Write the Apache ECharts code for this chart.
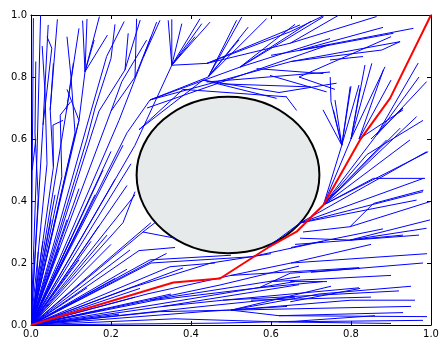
<!DOCTYPE html>
<html>
<head>
<meta charset="utf-8">
<script src="https://cdn.jsdelivr.net/npm/echarts@6/dist/echarts.min.js"></script>
<style>
html, body { margin: 0; padding: 0; background: #fff; }
#chart { width: 441px; height: 339px; }
</style>
</head>
<body>
<div id="chart"></div>
<script>
// tick labels
var xTicks = [0, 0.2, 0.4, 0.6, 0.8, 1.0];
var yTicks = [0, 0.2, 0.4, 0.6, 0.8, 1.0];

// obstacle (ellipse in data units)
var obstacleCenter = [0.4925, 0.484];
var obstacleRadius = [0.2285, 0.2525];

// found path (red)
var pathX = [0, 0.356, 0.4725, 0.593, 0.664, 0.731, 0.8225, 0.8975, 1.0];
var pathY = [0, 0.137, 0.15, 0.25, 0.301, 0.387, 0.597, 0.731, 1.0];

// ends of the edges that leave the start node (0, 0)
var rootChildren = [
    // low
    [0.36,0.02],[0.32,0.043],[0.33,0.06],[0.31,0.08],[0.29,0.10],[0.25,0.12],[0.21,0.15],[0.18,0.05],
    [0.24,0.18],[0.30,0.20],[0.27,0.24],[0.20,0.26],[0.15,0.27],[0.28,0.30],[0.23,0.33],[0.17,0.32],
    [0.13,0.34],[0.09,0.34],[0.05,0.34],[0.12,0.21],[0.10,0.28],[0.07,0.25],[0.26,0.09],[0.22,0.035],
    [0.2725,0.118],[0.2975,0.21],[0.3475,0.188],[0.38,0.184],[0.2475,0.242],[0.339,0.231],[0.4725,0.129],
    [0.4725,0.10],[0.4225,0.059],[0.43,0.043],[0.47,0.006],[0.19,0.29],[0.03,0.27],[0.30,0.33],
    [0.14,0.12],[0.35,0.10],
    // steep
    [0.006,0.99],[0.015,0.55],[0.018,0.41],[0.03,0.645],[0.056,0.51],[0.089,0.694],[0.077,0.478],
    [0.12,0.66],[0.15,0.69],[0.17,0.69],[0.20,0.69],[0.22,0.66],[0.24,0.62],[0.26,0.58],[0.25,0.52],
    [0.24,0.45],[0.26,0.42],[0.12,0.44],[0.18,0.50],[0.10,0.56],[0.20,0.56],[0.06,0.42],[0.14,0.60],
    [0.04,0.52],[0.16,0.42],[0.21,0.47],[0.11,0.62],[0.23,0.58]
];

// other tree edges [x1, y1, x2, y2]
var treeEdges = [
    // left edge
    [0.015,0.55,0.024,1.0],[0.018,0.41,0.01,0.62],[0.01,0.62,0.012,0.85],[0.03,0.645,0.043,0.968],
    [0.03,0.645,0.052,0.893],[0.052,0.893,0.04,0.93],[0.056,0.51,0.048,0.694],[0.048,0.694,0.056,0.844],
    [0.048,0.694,0.066,0.986],[0.056,0.51,0.055,0.645],[0.055,0.645,0.08,0.66],[0.003,0.5,0.012,0.60],
    [0.04,0.52,0.035,0.75],[0.035,0.75,0.028,0.9],
    // top left
    [0.089,0.694,0.106,0.846],[0.089,0.694,0.12,0.957],[0.077,0.478,0.073,0.677],[0.073,0.677,0.099,0.72],
    [0.12,0.66,0.135,0.817],[0.135,0.817,0.129,0.982],[0.135,0.817,0.14,0.987],[0.135,0.817,0.171,0.995],
    [0.135,0.817,0.158,0.919],[0.135,0.817,0.191,0.935],[0.15,0.69,0.189,0.866],[0.189,0.866,0.233,0.979],
    [0.17,0.69,0.235,0.823],[0.235,0.823,0.273,0.984],[0.235,0.823,0.243,0.941],[0.20,0.69,0.227,0.785],
    [0.227,0.785,0.289,0.919],[0.20,0.69,0.26,0.80],[0.10,0.56,0.12,0.66],[0.14,0.60,0.16,0.70],
    [0.11,0.62,0.10,0.80],[0.10,0.80,0.09,0.93],[0.16,0.70,0.20,0.86],[0.20,0.86,0.21,0.97],
    [0.12,0.66,0.09,0.76],[0.22,0.66,0.281,0.864],[0.281,0.864,0.314,0.977],[0.281,0.864,0.3225,0.983],
    [0.26,0.80,0.264,0.988],[0.26,0.80,0.30,0.93],
    // upper middle
    [0.24,0.62,0.2975,0.726],[0.26,0.58,0.352,0.838],[0.352,0.838,0.343,0.983],[0.352,0.838,0.352,0.986],
    [0.352,0.838,0.377,0.972],[0.352,0.838,0.4225,0.988],[0.352,0.838,0.427,0.972],[0.352,0.838,0.4475,0.977],
    [0.352,0.838,0.41,0.93],[0.2975,0.726,0.443,0.80],[0.443,0.80,0.514,0.983],[0.443,0.80,0.527,0.994],
    [0.443,0.80,0.543,0.961],[0.443,0.80,0.589,0.988],[0.443,0.80,0.52,0.92],[0.2975,0.726,0.5225,0.832],
    [0.5225,0.832,0.731,0.994],[0.5225,0.832,0.70,0.98],[0.5225,0.832,0.66,0.97],[0.5225,0.832,0.7475,0.924],
    [0.2975,0.726,0.65,0.85],[0.29,0.70,0.7475,0.905],[0.27,0.63,0.43,0.79],[0.43,0.79,0.614,0.731],
    [0.43,0.79,0.62,0.75],[0.439,0.784,0.7475,0.816],[0.564,0.827,0.731,0.811],[0.4725,0.778,0.70,0.768],
    [0.5975,0.805,0.739,0.752],[0.639,0.735,0.664,0.692],[0.38,0.76,0.64,0.736],[0.27,0.63,0.38,0.76],
    [0.44,0.844,0.648,0.909],[0.44,0.844,0.648,0.946],[0.352,0.838,0.44,0.844],[0.44,0.844,0.6725,0.968],
    // top right
    [0.648,0.946,0.735,1.0],[0.648,0.909,0.864,0.995],[0.6725,0.887,0.956,0.957],[0.65,0.85,0.923,0.914],
    [0.7475,0.866,0.877,0.887],[0.877,0.887,0.9225,0.914],[0.7475,0.903,0.906,0.941],[0.7475,0.855,0.83,0.866],
    [0.62,0.75,0.764,0.78],[0.67,0.80,0.90,0.93],[0.67,0.80,0.76,0.76],[0.648,0.909,0.77,1.0],
    [0.6725,0.887,0.88,0.96],[0.65,0.85,0.7475,0.866],[0.60,0.87,0.7475,0.903],
    // right of the obstacle
    [0.59,0.25,0.6725,0.329],[0.6725,0.329,0.989,0.559],[0.6725,0.329,0.981,0.473],[0.6725,0.329,0.98,0.43],
    [0.6725,0.329,0.964,0.403],[0.70,0.35,0.964,0.672],[0.731,0.387,0.923,0.635],[0.731,0.387,0.864,0.613],
    [0.731,0.387,0.84,0.55],[0.731,0.387,0.777,0.58],[0.731,0.387,0.993,0.559],[0.731,0.387,0.9475,0.597],
    [0.731,0.387,0.889,0.597],[0.731,0.387,0.856,0.473],[0.856,0.473,0.985,0.473],[0.777,0.58,0.756,0.694],
    [0.777,0.58,0.80,0.77],[0.777,0.58,0.75,0.72],[0.777,0.58,0.73,0.694],[0.777,0.58,0.82,0.774],
    [0.777,0.58,0.798,0.769],[0.75,0.72,0.748,0.80],[0.777,0.58,0.76,0.726],[0.80,0.60,0.852,0.844],
    [0.80,0.60,0.835,0.839],[0.80,0.60,0.885,0.833],[0.80,0.60,0.8225,0.763],[0.82,0.60,0.881,0.823],
    [0.82,0.60,0.90,0.79],[0.82,0.60,0.93,0.694],[0.864,0.613,0.97,0.80],[0.864,0.613,0.968,0.845],
    [0.864,0.613,0.989,0.785],[0.85,0.60,0.93,0.70],[0.84,0.55,0.98,0.66],[0.731,0.387,0.80,0.60],
    [0.7975,0.317,0.856,0.392],[0.856,0.392,0.981,0.435],[0.7975,0.317,0.9975,0.398],[0.6725,0.28,0.7975,0.274],
    [0.7975,0.274,0.9975,0.339],[0.7975,0.274,0.989,0.312],[0.7975,0.274,0.93,0.29],[0.68,0.30,0.7975,0.317],
    [0.66,0.26,0.97,0.29],[0.65,0.25,0.88,0.31],[0.65,0.20,0.99,0.23],[0.65,0.20,0.85,0.26],
    // lower middle and bottom right
    [0.32,0.043,0.50,0.048],[0.50,0.048,0.72,0.10],[0.50,0.048,0.75,0.125],[0.50,0.048,0.80,0.08],
    [0.50,0.048,0.62,0.03],[0.62,0.03,0.93,0.04],[0.62,0.03,0.99,0.027],[0.36,0.02,0.62,0.01],
    [0.62,0.01,0.98,0.015],[0.33,0.06,0.48,0.08],[0.48,0.08,0.82,0.12],[0.48,0.08,0.92,0.11],
    [0.72,0.10,0.95,0.125],[0.80,0.08,0.96,0.08],[0.31,0.08,0.57,0.12],[0.57,0.12,0.73,0.14],
    [0.29,0.10,0.50,0.16],[0.50,0.16,0.65,0.20],[0.50,0.16,0.82,0.185],[0.25,0.12,0.45,0.20],
    [0.30,0.20,0.55,0.22],[0.55,0.22,0.73,0.27],[0.28,0.30,0.36,0.28],[0.28,0.30,0.31,0.33],
    [0.23,0.33,0.26,0.43],[0.45,0.20,0.60,0.23],[0.27,0.24,0.36,0.25],[0.57,0.12,0.648,0.167],
    [0.648,0.167,0.823,0.183],[0.648,0.14,0.74,0.14],[0.648,0.075,0.823,0.118],[0.2975,0.08,0.6725,0.156],
    [0.33,0.06,0.67,0.13],[0.4725,0.129,0.67,0.19],[0.4725,0.10,0.66,0.14],[0.4225,0.059,0.66,0.09],
    [0.43,0.043,0.64,0.06],[0.50,0.048,0.95,0.06],[0.62,0.01,0.90,0.005],[0.70,0.17,0.98,0.20],
    [0.55,0.08,0.85,0.09],[0.60,0.14,0.90,0.16],[0.2975,0.21,0.50,0.225],[0.3475,0.188,0.46,0.20],
    [0.47,0.006,0.66,0.012],[0.66,0.012,0.86,0.03],[0.012,0.09,0.018,0.236]
];

var chart = echarts.init(document.getElementById('chart'));

var axisLineStyle = { color: '#000', width: 1 };

function makeAxis(position, withLabels, ticks) {
    return {
        type: 'value',
        position: position,
        min: 0,
        max: 1,
        interval: 0.2,
        axisLine: { show: true, onZero: false, lineStyle: axisLineStyle },
        axisTick: { show: true, inside: true, length: 4, lineStyle: axisLineStyle },
        splitLine: { show: false },
        axisLabel: {
            show: withLabels,
            margin: 4,
            color: '#000',
            fontFamily: 'DejaVu Sans',
            fontSize: 10,
            formatter: function (v) {
                for (var i = 0; i < ticks.length; i++) {
                    if (Math.abs(ticks[i] - v) < 1e-6) return ticks[i].toFixed(1);
                }
                return '';
            }
        }
    };
}

var edgeData = rootChildren.map(function (p) { return [0, 0, p[0], p[1]]; }).concat(treeEdges);
var pathData = pathX.map(function (x, i) { return [x, pathY[i]]; });

chart.setOption({
    animation: false,
    grid: { left: 31, right: 10, top: 15, bottom: 14, containLabel: false, outerBoundsMode: 'none' },
    xAxis: [makeAxis('bottom', true, xTicks), makeAxis('top', false, xTicks)],
    yAxis: [makeAxis('left', true, yTicks), makeAxis('right', false, yTicks)],
    series: [
        {
            type: 'custom',
            name: 'obstacle',
            z: 1,
            data: [[obstacleCenter[0], obstacleCenter[1], obstacleRadius[0], obstacleRadius[1]]],
            encode: { x: 0, y: 1 },
            renderItem: function (params, api) {
                var c = api.coord([api.value(0), api.value(1)]);
                var s = api.size([api.value(2), api.value(3)]);
                return {
                    type: 'ellipse',
                    shape: { cx: c[0], cy: c[1], rx: s[0], ry: s[1] },
                    style: { fill: '#e7eaeb', stroke: '#000', lineWidth: 2 }
                };
            }
        },
        {
            type: 'custom',
            name: 'tree',
            z: 2,
            clip: true,
            data: edgeData,
            encode: { x: [0, 2], y: [1, 3] },
            renderItem: function (params, api) {
                var a = api.coord([api.value(0), api.value(1)]);
                var b = api.coord([api.value(2), api.value(3)]);
                return {
                    type: 'line',
                    shape: { x1: a[0], y1: a[1], x2: b[0], y2: b[1] },
                    style: { stroke: '#0000ff', lineWidth: 1 }
                };
            }
        },
        {
            type: 'line',
            name: 'path',
            z: 3,
            data: pathData,
            showSymbol: false,
            lineStyle: { color: '#ff0000', width: 2 }
        }
    ]
});
</script>
</body>
</html>
